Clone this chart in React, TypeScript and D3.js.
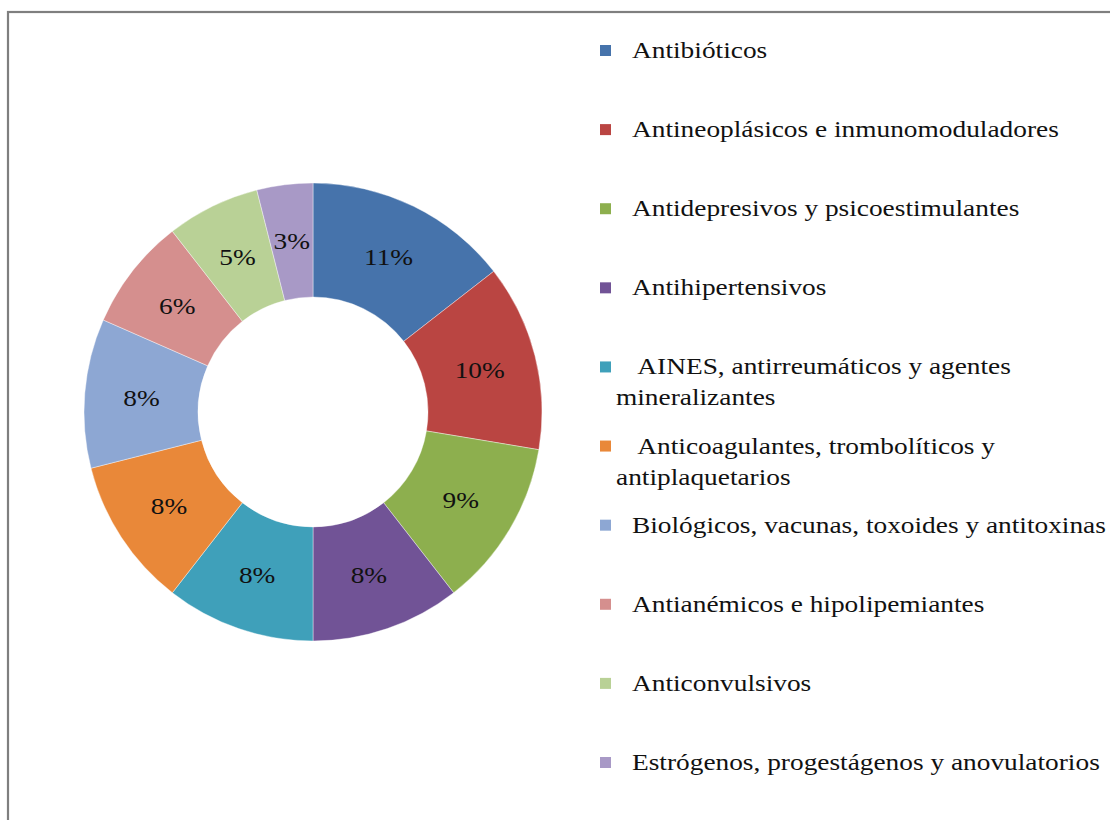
import React from "react";
import * as d3 from "d3";

const categories: string[] = [
  "Antibióticos",
  "Antineoplásicos e inmunomoduladores",
  "Antidepresivos y psicoestimulantes",
  "Antihipertensivos",
  "AINES, antirreumáticos y agentes mineralizantes",
  "Anticoagulantes, trombolíticos y antiplaquetarios",
  "Biológicos, vacunas, toxoides y antitoxinas",
  "Antianémicos e hipolipemiantes",
  "Anticonvulsivos",
  "Estrógenos, progestágenos y anovulatorios",
];

const values: number[] = [11, 10, 9, 8, 8, 8, 8, 6, 5, 3];

const legendLines: string[][] = [
  ["Antibióticos"],
  ["Antineoplásicos e inmunomoduladores"],
  ["Antidepresivos y psicoestimulantes"],
  ["Antihipertensivos"],
  [" AINES, antirreumáticos y agentes", "mineralizantes"],
  [" Anticoagulantes, trombolíticos y", "antiplaquetarios"],
  ["Biológicos, vacunas, toxoides y antitoxinas"],
  ["Antianémicos e hipolipemiantes"],
  ["Anticonvulsivos"],
  ["Estrógenos, progestágenos y anovulatorios"],
];

const colors: string[] = [
  "#4673AB",
  "#BA4542",
  "#8DAF4E",
  "#715396",
  "#3FA0BA",
  "#E98839",
  "#8DA7D3",
  "#D58F8E",
  "#B9D196",
  "#A899C6",
];

const W = 1110;
const H = 820;
const cx = 313;
const cy = 412;
const outerR = 229;
const innerR = 115;
const FONT = "'Liberation Serif', 'Times New Roman', serif";
const FS = 24;
const XS = 1.14;

export default function App() {
  const pie = d3
    .pie<number>()
    .sort(null)
    .value((d) => d)
    .startAngle(0)
    .endAngle(2 * Math.PI);
  const arcs = pie(values);
  const arc = d3.arc<d3.PieArcDatum<number>>().innerRadius(innerR).outerRadius(outerR);

  const legendY = d3.scaleLinear().domain([0, categories.length - 1]).range([58, 770]);

  return (
    <svg
      width={W}
      height={H}
      style={{ position: "absolute", left: 0, top: 0, background: "#fff" }}
    >
      <rect x={0} y={0} width={W} height={H} fill="#fff" />
      <rect x={8} y={12} width={1300} height={1000} fill="none" stroke="#7f7f7f" strokeWidth={2.2} />
      <g transform={`translate(${cx},${cy})`}>
        {arcs.map((a, i) => (
          <path key={i} d={arc(a) || ""} fill={colors[i]} stroke="#ffffff" strokeWidth={0.4} />
        ))}
        {arcs.map((a, i) => {
          const [x, y] = arc.centroid(a);
          return (
            <text
              key={"l" + i}
              transform={`translate(${x},${y + 8}) scale(${XS},1)`}
              textAnchor="middle"
              fontFamily={FONT}
              fontSize={FS}
              fill="#111"
            >
              {values[i]}%
            </text>
          );
        })}
      </g>
      <g>
        {categories.map((c, i) => {
          const by = legendY(i);
          return (
            <g key={"g" + i}>
              <rect x={600} y={by - 13} width={11} height={11} fill={colors[i]} />
              {legendLines[i].map((ln, j) => (
                <text
                  key={j}
                  transform={`translate(${j === 0 ? 632 : 616},${by + j * 31}) scale(${XS},1)`}
                  fontFamily={FONT}
                  fontSize={FS}
                  fill="#111"
                  style={{ whiteSpace: "pre" }}
                >
                  {ln}
                </text>
              ))}
            </g>
          );
        })}
      </g>
    </svg>
  );
}
